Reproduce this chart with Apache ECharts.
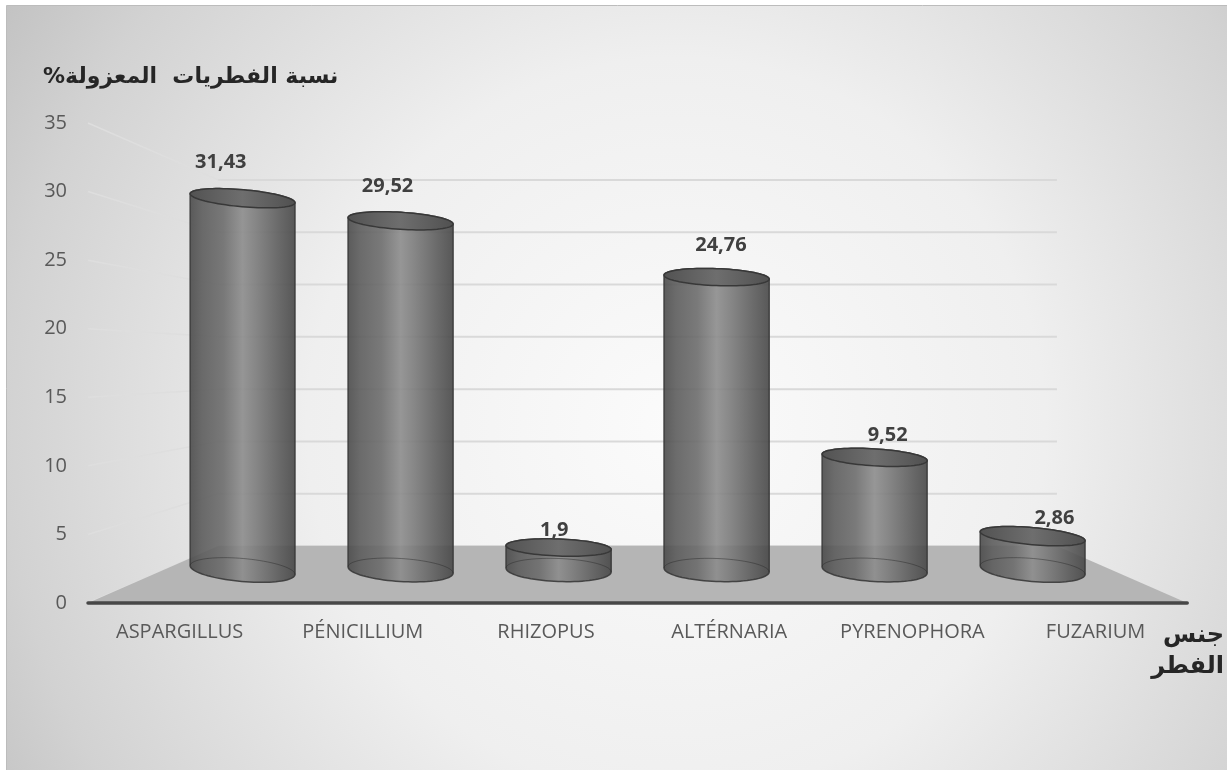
<!DOCTYPE html>
<html>
<head>
<meta charset="utf-8">
<script src="https://cdn.jsdelivr.net/npm/echarts@6/dist/echarts.min.js"></script>
<style>
  html, body { margin: 0; padding: 0; background: #ffffff; }
  #chart { width: 1227px; height: 770px; }
</style>
</head>
<body>
<div id="chart"></div>
<script>
// Isolated fungal genera and their share (%)
const categories = ['ASPARGILLUS', 'PÉNICILLIUM', 'RHIZOPUS', 'ALTÉRNARIA', 'PYRENOPHORA', 'FUZARIUM'];
const values = [31.43, 29.52, 1.9, 24.76, 9.52, 2.86];
const yTicks = [0, 5, 10, 15, 20, 25, 30, 35];
const yAxisTitle = 'نسبة الفطريات  المعزولة%';
const xAxisTitle = 'جنس\nالفطر';

// depth factors of the pseudo-3D scene (front plane = 1)
const S_BACK = 0.763;   // back wall
const S_BAR = 0.8625;   // cylinder axis row
const S_LABEL = 0.91;   // data label row

function projector(cs) {
  const cx = cs.x + cs.width / 2, cy = cs.y + cs.height / 2;
  return function (p, s) { return [cx + (p[0] - cx) * s, cy + (p[1] - cy) * s]; };
}

function ellPt(c, rx, ry, th, phi) {
  const cp = Math.cos(phi), sp = Math.sin(phi), ct = Math.cos(th), st = Math.sin(th);
  return [c[0] + rx * cp * ct - ry * sp * st, c[1] + rx * cp * st + ry * sp * ct];
}
function arc(c, rx, ry, th, a0, a1, n) {
  const pts = [];
  for (let k = 0; k <= n; k++) pts.push(ellPt(c, rx, ry, th, a0 + (a1 - a0) * k / n));
  return pts;
}

const chart = echarts.init(document.getElementById('chart'), null, { renderer: 'canvas' });

const bodyFill = new echarts.graphic.LinearGradient(0, 0, 1, 0, [
  { offset: 0, color: '#4a4a4a' },
  { offset: 0.12, color: '#5c5c5c' },
  { offset: 0.32, color: '#6c6c6c' },
  { offset: 0.5, color: '#8c8c8c' },
  { offset: 0.62, color: '#7c7c7c' },
  { offset: 0.86, color: '#595959' },
  { offset: 1, color: '#464646' }
]);
const capFill = new echarts.graphic.LinearGradient(0, 0, 1, 0, [
  { offset: 0, color: '#525252' },
  { offset: 0.5, color: '#6e6e6e' },
  { offset: 1, color: '#505050' }
]);

function renderWall(params, api) {
  const cs = params.coordSys;
  const proj = projector(cs);
  const v = api.value(1);
  const y = api.coord([0, v])[1];
  const fL = [cs.x, y];
  const bL = proj(fL, S_BACK);
  const bR = proj([cs.x + cs.width, y], S_BACK);
  return {
    type: 'group',
    children: [
      { type: 'line', shape: { x1: fL[0], y1: fL[1], x2: bL[0], y2: bL[1] },
        style: { stroke: '#dedede', lineWidth: 1.5 } },
      { type: 'line', shape: { x1: bL[0], y1: bL[1], x2: bR[0], y2: bR[1] },
        style: { stroke: '#d9d9d9', lineWidth: 2 } }
    ]
  };
}

function renderFloor(params, api) {
  const cs = params.coordSys;
  const proj = projector(cs);
  const y0 = api.coord([0, 0])[1];
  const fL = [cs.x, y0], fR = [cs.x + cs.width, y0];
  return {
    type: 'polygon',
    shape: { points: [fL, fR, proj(fR, S_BACK), proj(fL, S_BACK)] },
    style: { fill: '#b5b5b5' }
  };
}

function renderCylinder(params, api) {
  const cs = params.coordSys;
  const proj = projector(cs);
  const cx = cs.x + cs.width / 2;
  const i = api.value(0), v = api.value(1);
  const top = proj(api.coord([i, v]), S_BAR);
  const base = proj(api.coord([i, 0]), S_BAR);
  const band = api.size([1, 0])[0] * S_BAR;
  const rx = band * 0.333;
  const ryTop = 8.5, ryBot = 11.5;
  const th = (1.5 + 4 * Math.abs(base[0] - cx) / 450) * Math.PI / 180;

  const body = arc(base, rx, ryBot, th, Math.PI, 0, 40)
    .concat(arc(top, rx, ryTop, th, 0, -Math.PI, 40));
  const backArc = arc(base, rx, ryBot, th, Math.PI, 2 * Math.PI, 40);
  const cap = arc(top, rx, ryTop, th, 0, 2 * Math.PI, 80);
  const lp = proj(api.coord([i, v]), S_LABEL);

  return {
    type: 'group',
    children: [
      { type: 'polygon', shape: { points: body },
        style: { fill: bodyFill, opacity: 0.9, stroke: '#3a3a3a', lineWidth: 1.5 } },
      { type: 'polyline', shape: { points: backArc },
        style: { stroke: 'rgba(40,40,40,0.45)', lineWidth: 1, fill: null } },
      { type: 'polygon', shape: { points: cap },
        style: { fill: capFill, stroke: '#383838', lineWidth: 1.5 } },
      { type: 'text', x: lp[0], y: lp[1] - 27,
        style: { text: String(v).replace('.', ','), align: 'center', verticalAlign: 'middle',
                 fill: '#404040', font: 'bold 20px "Open Sans", sans-serif' } }
    ]
  };
}

const option = {
  animation: false,
  backgroundColor: '#ffffff',
  graphic: {
    elements: [{
      type: 'rect', left: 6, top: 5, z: -100, silent: true,
      shape: { width: 1240, height: 780 },
      style: {
        fill: new echarts.graphic.RadialGradient(0.54, 0.54, 1.05, [
          { offset: 0, color: '#fbfbfb' },
          { offset: 0.45, color: '#efefef' },
          { offset: 0.82, color: '#d2d2d2' },
          { offset: 1, color: '#bfbfbf' }
        ]),
        stroke: '#bcbcbc', lineWidth: 1
      }
    }]
  },
  title: {
    text: yAxisTitle + '\u200F',
    left: 38, top: 61,
    textStyle: { fontFamily: '"DejaVu Sans"', fontWeight: 'bold', fontSize: 22, color: '#262626' }
  },
  grid: { left: 88, right: 39, top: 123, bottom: 167, containLabel: false },
  xAxis: {
    type: 'category',
    data: categories,
    z: 10,
    axisLine: { show: true, lineStyle: { color: '#474747', width: 3.5 } },
    axisTick: { show: false },
    axisLabel: { interval: 0, color: '#595959', fontSize: 20, fontFamily: 'Open Sans', margin: 19 },
    splitLine: { show: false },
    name: xAxisTitle,
    nameLocation: 'end',
    nameGap: 33,
    nameTextStyle: {
      fontFamily: '"DejaVu Sans"', fontWeight: 'bold', fontSize: 24, color: '#262626',
      align: 'right', verticalAlign: 'top', lineHeight: 31, padding: [17, 0, 0, 0]
    }
  },
  yAxis: {
    type: 'value',
    min: 0, max: 35, interval: 5,
    axisLine: { show: false },
    axisTick: { show: false },
    splitLine: { show: false },
    axisLabel: { color: '#595959', fontSize: 20, fontFamily: 'Open Sans', margin: 21 }
  },
  series: [
    {
      type: 'custom', name: 'wall', silent: true, clip: false, z: 1,
      data: yTicks.map(function (t) { return [0, t]; }),
      encode: { x: 0, y: 1 },
      renderItem: renderWall
    },
    {
      type: 'custom', name: 'floor', silent: true, clip: false, z: 1,
      data: [[0, 0]],
      encode: { x: 0, y: 1 },
      renderItem: renderFloor
    },
    {
      type: 'custom', name: 'share', clip: false, z: 3,
      data: values.map(function (v, i) { return [i, v]; }),
      encode: { x: 0, y: 1 },
      renderItem: renderCylinder
    }
  ]
};

chart.setOption(option);
</script>
</body>
</html>
